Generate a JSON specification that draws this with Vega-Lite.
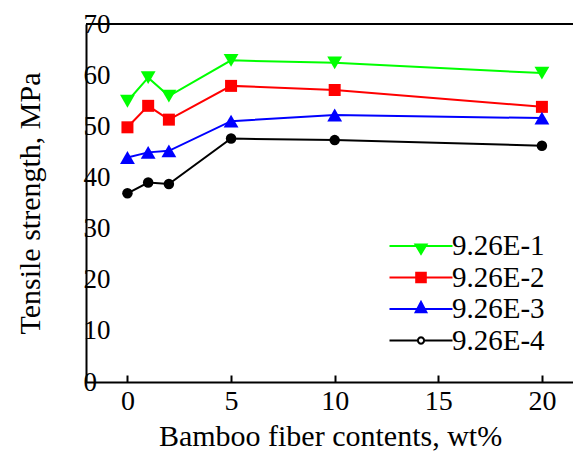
{
  "$schema": "https://vega.github.io/schema/vega-lite/v6.json",
  "width": 487,
  "height": 358,
  "autosize": {"type": "none"},
  "padding": {"left": 86, "top": 24, "right": 0, "bottom": 70},
  "background": "white",
  "config": {
    "font": "Liberation Serif",
    "view": {"stroke": null},
    "style": {"guide-label": {"font": "Liberation Serif"}, "guide-title": {"font": "Liberation Serif"}},
    "axis": {
      "domainColor": "black", "domainWidth": 2, "labelColor": "black", "titleColor": "black",
      "tickColor": "black", "grid": false, "labelFont": "Liberation Serif", "titleFont": "Liberation Serif",
      "titleFontWeight": "normal", "labelFlush": false, "labelOverlap": false
    },
    "legend": {"labelFont": "Liberation Serif, serif", "labelFontSize": 29, "labelColor": "black"}
  },
  "data": {
    "values": [
      {"series": "9.26E-1", "content": 0, "strength": 54.9},
      {"series": "9.26E-1", "content": 1, "strength": 59.5},
      {"series": "9.26E-1", "content": 2, "strength": 55.9},
      {"series": "9.26E-1", "content": 5, "strength": 62.9},
      {"series": "9.26E-1", "content": 10, "strength": 62.4},
      {"series": "9.26E-1", "content": 20, "strength": 60.4},
      {"series": "9.26E-2", "content": 0, "strength": 49.8},
      {"series": "9.26E-2", "content": 1, "strength": 54.0},
      {"series": "9.26E-2", "content": 2, "strength": 51.3},
      {"series": "9.26E-2", "content": 5, "strength": 57.9},
      {"series": "9.26E-2", "content": 10, "strength": 57.1},
      {"series": "9.26E-2", "content": 20, "strength": 53.8},
      {"series": "9.26E-3", "content": 0, "strength": 43.9},
      {"series": "9.26E-3", "content": 1, "strength": 44.9},
      {"series": "9.26E-3", "content": 2, "strength": 45.2},
      {"series": "9.26E-3", "content": 5, "strength": 51.0},
      {"series": "9.26E-3", "content": 10, "strength": 52.2},
      {"series": "9.26E-3", "content": 20, "strength": 51.6},
      {"series": "9.26E-4", "content": 0, "strength": 36.9},
      {"series": "9.26E-4", "content": 1, "strength": 39.0},
      {"series": "9.26E-4", "content": 2, "strength": 38.7},
      {"series": "9.26E-4", "content": 5, "strength": 47.6},
      {"series": "9.26E-4", "content": 10, "strength": 47.3},
      {"series": "9.26E-4", "content": 20, "strength": 46.2}
    ]
  },
  "encoding": {
    "x": {
      "field": "content", "type": "quantitative",
      "scale": {"domain": [-2, 21.5], "nice": false, "zero": false},
      "axis": {
        "values": [0, 5, 10, 15, 20], "tickSize": -7, "tickWidth": 2, "labelPadding": 12,
        "labelFontSize": 28, "title": "Bamboo fiber contents, wt%", "titleFontSize": 30,
        "titleX": 244, "titleY": 63, "titleBaseline": "alphabetic", "titleAlign": "center"
      }
    },
    "y": {
      "field": "strength", "type": "quantitative",
      "scale": {"domain": [0, 70], "nice": false},
      "axis": {
        "values": [0, 10, 20, 30, 40, 50, 60, 70], "ticks": false, "labelAlign": "left",
        "labelPadding": 3, "labelFontSize": 27, "title": "Tensile strength, MPa", "titleFontSize": 30,
        "titleX": -47, "titleY": 179, "titleAngle": -90, "titleBaseline": "alphabetic", "titleAlign": "center"
      }
    }
  },
  "layer": [
    {
      "mark": {"type": "rule", "strokeWidth": 2, "color": "black"},
      "encoding": {"x": {"datum": -2}, "x2": {"datum": 21.5}, "y": {"datum": 70}}
    },
    {
      "transform": [{"filter": {"field": "series", "equal": "9.26E-1"}}],
      "mark": {"type": "line", "strokeWidth": 2, "color": "#00ff00",
        "point": {"shape": "triangle-down", "filled": true, "size": 220, "opacity": 1, "color": "#00ff00"}}
    },
    {
      "transform": [{"filter": {"field": "series", "equal": "9.26E-2"}}],
      "mark": {"type": "line", "strokeWidth": 2, "color": "#ff0000",
        "point": {"shape": "square", "filled": true, "size": 144, "opacity": 1, "color": "#ff0000"}}
    },
    {
      "transform": [{"filter": {"field": "series", "equal": "9.26E-3"}}],
      "mark": {"type": "line", "strokeWidth": 2, "color": "#0000ff",
        "point": {"shape": "triangle-up", "filled": true, "size": 220, "opacity": 1, "color": "#0000ff"}}
    },
    {
      "transform": [{"filter": {"field": "series", "equal": "9.26E-4"}}],
      "mark": {"type": "line", "strokeWidth": 2, "color": "#000000",
        "point": {"shape": "circle", "filled": true, "size": 110, "opacity": 1, "color": "#000000"}}
    },
    {
      "mark": {"type": "point", "filled": true, "size": 900, "opacity": 0},
      "encoding": {
        "color": {
          "field": "series", "type": "nominal",
          "scale": {"domain": ["9.26E-1", "9.26E-2", "9.26E-3", "9.26E-4"], "range": ["#00ff00", "#ff0000", "#0000ff", "#000000"]},
          "legend": {
            "title": null, "orient": "none", "legendX": 319, "legendY": 206, "symbolSize": 900,
            "labelOffset": 15, "labelFontSize": 29, "labelFont": {"expr": "'Liberation Serif, serif'"}, "labelColor": "black",
            "rowPadding": 0.5, "padding": 0, "symbolStrokeWidth": 2, "symbolOpacity": 1,
            "encode": {
              "symbols": {"update": {"fill": {"scale": "color", "field": "value"}, "stroke": {"scale": "color", "field": "value"}, "strokeWidth": {"value": 2}, "opacity": {"value": 1}}},
              "labels": {"font": {"value": "Liberation Serif, serif"}, "fontSize": {"value": 29}}
            }
          }
        },
        "shape": {
          "field": "series", "type": "nominal",
          "scale": {
            "domain": ["9.26E-1", "9.26E-2", "9.26E-3", "9.26E-4"],
            "range": [
              "M-2.1,0H2.1M-0.37,-0.1L0.37,-0.1L0,0.52Z",
              "M-2.1,0H2.1M-0.32,-0.32H0.32V0.32H-0.32Z",
              "M-2.1,0H2.1M0,-0.47L0.36,0.22L-0.36,0.22Z",
              "M-2.1,0H-0.21M0.21,0H2.1M0.21,0L0.182,0.105L0.105,0.182L0,0.21L-0.105,0.182L-0.182,0.105L-0.21,0L-0.182,-0.105L-0.105,-0.182L0,-0.21L0.105,-0.182L0.182,-0.105ZM0.21,0L0.182,-0.105L0.105,-0.182L0,-0.21L-0.105,-0.182L-0.182,-0.105L-0.21,0L-0.182,0.105L-0.105,0.182L0,0.21L0.105,0.182L0.182,0.105Z"
            ]
          },
          "legend": {
            "title": null, "orient": "none", "legendX": 319, "legendY": 206, "symbolSize": 900,
            "labelOffset": 15, "labelFontSize": 29, "labelFont": {"expr": "'Liberation Serif, serif'"}, "labelColor": "black",
            "rowPadding": 0.5, "padding": 0, "symbolStrokeWidth": 2, "symbolOpacity": 1,
            "encode": {
              "symbols": {"update": {"fill": {"scale": "color", "field": "value"}, "stroke": {"scale": "color", "field": "value"}, "strokeWidth": {"value": 2}, "opacity": {"value": 1}}},
              "labels": {"font": {"value": "Liberation Serif, serif"}, "fontSize": {"value": 29}}
            }
          }
        }
      }
    }
  ]
}
